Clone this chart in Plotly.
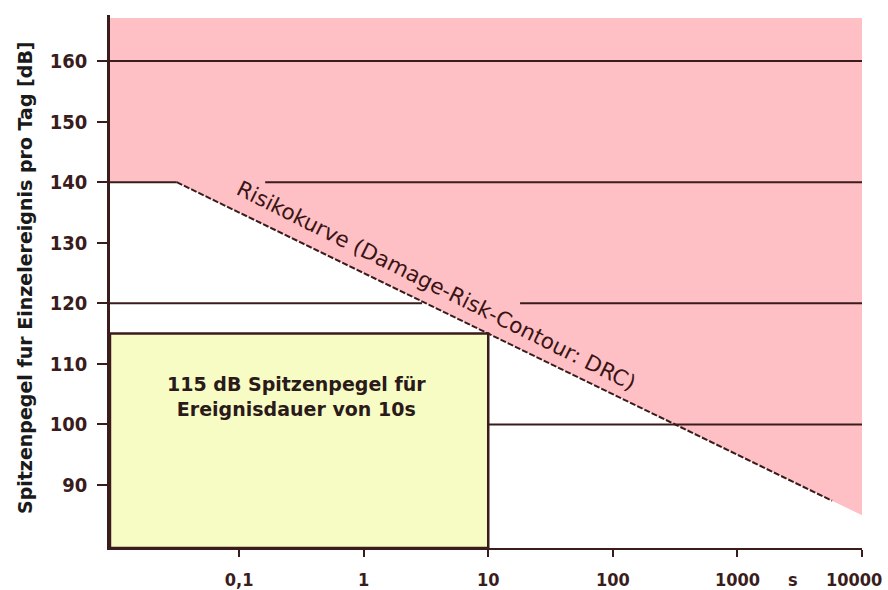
import math
import plotly.graph_objects as go

# ---- data ----
y_ticks = [90, 100, 110, 120, 130, 140, 150, 160]
x_ticks = [0.1, 1, 10, 100, 1000, 10000]
x_tick_labels = ["0,1", "1", "10", "100", "1000", "10000"]

x_min = 0.0092
x_max = 10000
y_top = 167.1

# Damage-Risk-Contour (DRC)
drc_flat_t = [x_min, 0.0316]
drc_flat_db = [140, 140]
drc_slope_t = [0.0316, 5750]
drc_slope_db = [140, 87.4]
drc_end_db = 85  # at 10000 s

# horizontal reference lines: (level, start, end)
h_levels = [160, 140, 120, 120, 100]
h_starts = [x_min, 0.162, x_min, 18.0, 10]
h_ends = [x_max, x_max, 2.94, x_max, x_max]

# example exposure: 115 dB for 10 s
box_db = 115
box_t = 10
y_bottom = 79.6

line_col = "#3a1c1c"
pink = "#fec0c4"
yellow = "#f7fcc4"

fig = go.Figure()

# pink risk area above DRC
fig.add_trace(go.Scatter(
    x=[drc_flat_t[0], drc_flat_t[1], x_max, x_max, x_min],
    y=[drc_flat_db[0], drc_flat_db[1], drc_end_db, y_top, y_top],
    fill="toself", fillcolor=pink, mode="lines", line=dict(width=0),
    hoverinfo="skip", showlegend=False))

# horizontal lines
for lvl, a, b in zip(h_levels, h_starts, h_ends):
    fig.add_trace(go.Scatter(x=[a, b], y=[lvl, lvl], mode="lines",
                             line=dict(color=line_col, width=2),
                             hoverinfo="skip", showlegend=False))

# yellow box
fig.add_trace(go.Scatter(
    x=[x_min, box_t, box_t, x_min, x_min],
    y=[y_bottom, y_bottom, box_db, box_db, y_bottom],
    fill="toself", fillcolor=yellow, mode="lines",
    line=dict(color=line_col, width=2.5),
    hoverinfo="skip", showlegend=False))

# DRC lines
fig.add_trace(go.Scatter(x=drc_flat_t, y=drc_flat_db, mode="lines",
                         line=dict(color=line_col, width=2),
                         hoverinfo="skip", showlegend=False))
fig.add_trace(go.Scatter(x=drc_slope_t, y=drc_slope_db, mode="lines",
                         line=dict(color=line_col, width=2, dash="6px,2px"),
                         hoverinfo="skip", showlegend=False))

y_tick_font = dict(family="Liberation Sans Narrow, DejaVu Sans Condensed, sans-serif",
                   size=20, color=line_col, weight="bold")
x_tick_font = dict(family="Liberation Sans Narrow, DejaVu Sans Condensed, sans-serif",
                   size=18, color=line_col, weight="bold")

# last label is drawn as an annotation so it can be kept inside the page
shown_x_labels = x_tick_labels[:-1] + [""]

fig.update_xaxes(type="log", range=[-2.036, 4.0], tickvals=x_ticks,
                 ticktext=shown_x_labels, ticks="outside", ticklen=7,
                 tickwidth=2, tickcolor=line_col, showline=True,
                 linecolor=line_col, linewidth=2, showgrid=False,
                 zeroline=False, tickfont=x_tick_font, ticklabelstandoff=7,
                 automargin=False, ticklabeloverflow="allow")
fig.update_yaxes(range=[79.6, 167.6], tickvals=y_ticks, ticks="outside",
                 ticklen=10, tickwidth=2, tickcolor=line_col, showline=True,
                 linecolor=line_col, linewidth=2.5, showgrid=False,
                 zeroline=False, tickfont=y_tick_font, ticklabelstandoff=6,
                 automargin=False, ticklabeloverflow="allow")

annotations = [
    dict(text="115 dB Spitzenpegel für<br>Ereignisdauer von 10s",
         x=-0.542, y=104.6, xref="x", yref="y", showarrow=False,
         xanchor="center", yanchor="middle",
         font=dict(family="DejaVu Sans", size=19, color="#2a1a1a",
                   weight="bold")),
    dict(text="Risikokurve (Damage-Risk-Contour: DRC)",
         x=0.581, y=122.9, xref="x", yref="y", showarrow=False,
         xanchor="center", yanchor="middle", textangle=26.5,
         font=dict(family="DejaVu Sans", size=21.5, color="#3a1414")),
    dict(text="s", x=3.446, y=-0.06, xref="x", yref="paper", showarrow=False,
         xanchor="center", yanchor="middle", font=x_tick_font),
    dict(text=x_tick_labels[-1], x=math.log10(x_ticks[-1]), y=-0.06,
         xref="x", yref="paper", showarrow=False, xanchor="right",
         xshift=22, yanchor="middle", font=x_tick_font),
    dict(text="Spitzenpegel fur Einzelereignis pro Tag [dB]",
         x=-0.113, y=0.5066, xref="paper", yref="paper", showarrow=False,
         xanchor="center", yanchor="middle", textangle=-90,
         font=dict(family="DejaVu Sans", size=19, color="#1a1a1a",
                   weight="bold")),
]

fig.update_layout(width=888, height=590,
                  margin=dict(l=110, r=26, t=15, b=42, autoexpand=False),
                  paper_bgcolor="white", plot_bgcolor="white",
                  annotations=annotations, showlegend=False)

fig.write_html("out.html", config={"displayModeBar": False},
               post_script="document.body.style.margin='0';"
                           "document.body.style.overflow='hidden';")
